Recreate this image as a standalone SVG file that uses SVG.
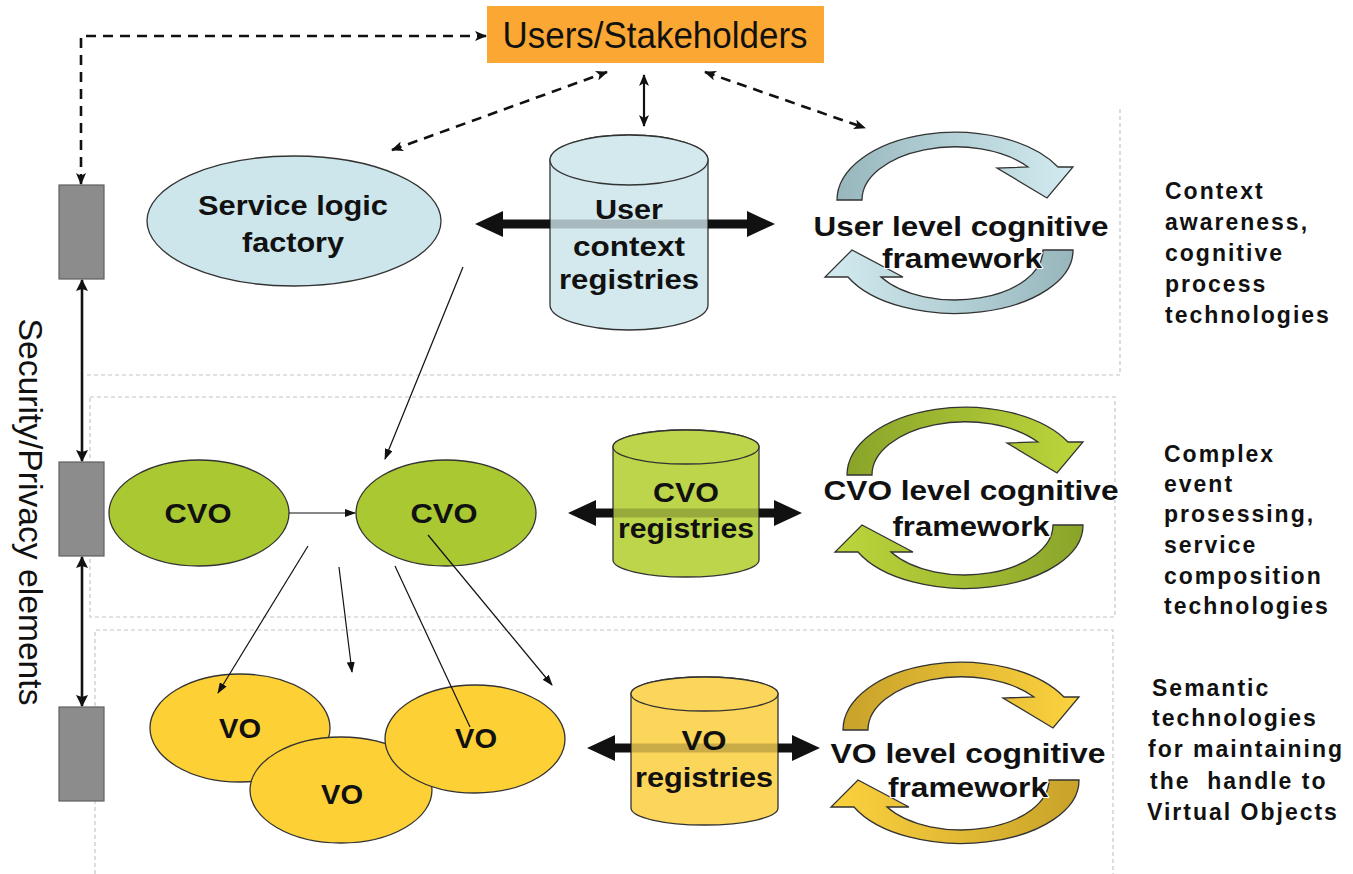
<svg xmlns="http://www.w3.org/2000/svg" width="1353" height="874" viewBox="0 0 1353 874">
  <defs>
    <style>
      text { font-family: "Liberation Sans", Arial, sans-serif; fill: #111; }
      .b { font-weight: bold; font-size: 27px; text-anchor: middle; }
      .cog { font-weight: bold; font-size: 28px; text-anchor: middle; stroke: #fff; stroke-width: 2; paint-order: stroke; stroke-linejoin: round; }
      .side { font-weight: bold; font-size: 23px; letter-spacing: 2px; }
      .layer { fill: none; stroke: #c6c6c6; stroke-width: 1.2; stroke-dasharray: 4 3; }
      .dash { fill: none; stroke: #111; stroke-width: 2.6; stroke-dasharray: 10 7; }
      .thin { fill: none; stroke: #111; stroke-width: 1.2; }
      .solid { fill: none; stroke: #111; stroke-width: 2.6; }
      .guard { fill: #8c8c8c; stroke: #606060; stroke-width: 1.2; }
      .shape { stroke: #333; stroke-width: 1.3; }
      .big { fill: #111; }
      .band { fill: #000; fill-opacity: 0.2; }
    </style>
    <marker id="dh" viewBox="0 0 12 10" refX="11" refY="5" markerWidth="12" markerHeight="10" markerUnits="userSpaceOnUse" orient="auto-start-reverse">
      <path d="M0,0 L12,5 L0,10 L3,5 z" fill="#111"/>
    </marker>
    <marker id="sh" viewBox="0 0 12 12" refX="11" refY="6" markerWidth="12" markerHeight="12" markerUnits="userSpaceOnUse" orient="auto-start-reverse">
      <path d="M0,0 L12,6 L0,12 L2,6 z" fill="#111"/>
    </marker>
    <marker id="th" viewBox="0 0 11 8" refX="10" refY="4" markerWidth="11" markerHeight="8" markerUnits="userSpaceOnUse" orient="auto-start-reverse">
      <path d="M0,0 L11,4 L0,8 z" fill="#111"/>
    </marker>
    <linearGradient id="uTop" x1="0" x2="1" y1="0" y2="0"><stop offset="0" stop-color="#97b7bd"/><stop offset="1" stop-color="#d2ebf0"/></linearGradient>
    <linearGradient id="uBot" x1="0" x2="1" y1="0" y2="0"><stop offset="0" stop-color="#d2ebf0"/><stop offset="1" stop-color="#97b7bd"/></linearGradient>
    <linearGradient id="cTop" x1="0" x2="1" y1="0" y2="0"><stop offset="0" stop-color="#8aa42a"/><stop offset="1" stop-color="#bcd63c"/></linearGradient>
    <linearGradient id="cBot" x1="0" x2="1" y1="0" y2="0"><stop offset="0" stop-color="#bcd63c"/><stop offset="1" stop-color="#8aa42a"/></linearGradient>
    <linearGradient id="vTop" x1="0" x2="1" y1="0" y2="0"><stop offset="0" stop-color="#c8a22a"/><stop offset="1" stop-color="#fcd23e"/></linearGradient>
    <linearGradient id="vBot" x1="0" x2="1" y1="0" y2="0"><stop offset="0" stop-color="#fcd23e"/><stop offset="1" stop-color="#c8a22a"/></linearGradient>
    <!-- circular arrow pair of a cognitive framework -->
    <path id="arcTop" d="M837,200 A118,68 0 0 1 1058,167 L1073,167 L1047,198 L997,168 L1028,167 A93,53 0 0 0 862,200 Z"/>
    <path id="arcBot" d="M1073,250 A118,63 0 0 1 848,277 L825,277 L852,250 L903,277 L881,277 A88,50 0 0 0 1043,250 Z"/>
  </defs>

  <rect width="1353" height="874" fill="#fff"/>

  <!-- layer frames -->
  <g id="layers">
    <path class="layer" d="M87,375 H1120 V108"/>
    <rect class="layer" x="90" y="397" width="1025" height="220"/>
    <path class="layer" d="M95,874 V630 H1113 V874"/>
  </g>

  <!-- security / privacy column -->
  <g id="security">
    <rect class="guard" x="59" y="185" width="45" height="94"/>
    <rect class="guard" x="59" y="462" width="45" height="94"/>
    <rect class="guard" x="59" y="707" width="45" height="94"/>
    <text transform="translate(19,512) rotate(90)" font-size="33" text-anchor="middle" textLength="387" lengthAdjust="spacingAndGlyphs" fill="#222">Security/Privacy elements</text>
  </g>

  <!-- top node -->
  <g id="users">
    <rect x="487" y="6" width="337" height="57" fill="#fba733"/>
    <text x="655" y="48" font-size="36" text-anchor="middle" textLength="305" lengthAdjust="spacingAndGlyphs">Users/Stakeholders</text>
  </g>

  <!-- user level -->
  <g id="service-logic-factory">
    <ellipse class="shape" cx="294" cy="221" rx="147" ry="65" fill="#cde6ec"/>
    <text class="b" x="293" y="215" textLength="190" lengthAdjust="spacingAndGlyphs">Service logic</text>
    <text class="b" x="293" y="252" textLength="102" lengthAdjust="spacingAndGlyphs">factory</text>
  </g>
  <g id="user-context-registries">
    <path class="shape" d="M550,160 V305 A79,25 0 0 0 708,305 V160 A79,25 0 0 0 550,160 Z" fill="#d3e9ee"/>
    <ellipse class="shape" cx="629" cy="160" rx="79" ry="25" fill="#d3e9ee"/>
    <text class="b" x="629" y="219" textLength="68" lengthAdjust="spacingAndGlyphs">User</text>
    <text class="b" x="629" y="256" textLength="112" lengthAdjust="spacingAndGlyphs">context</text>
    <text class="b" x="629" y="289" textLength="140" lengthAdjust="spacingAndGlyphs">registries</text>
  </g>
  <g id="user-cognitive">
    <use href="#arcTop" fill="url(#uTop)" class="shape"/>
    <use href="#arcBot" fill="url(#uBot)" class="shape"/>
    <text class="cog" x="961" y="236" textLength="295" lengthAdjust="spacingAndGlyphs">User level cognitive</text>
    <text class="cog" x="962" y="268" textLength="160" lengthAdjust="spacingAndGlyphs">framework</text>
  </g>

  <!-- CVO level -->
  <g id="cvo-1">
    <ellipse class="shape" cx="199" cy="513" rx="90" ry="53" fill="#a9c832"/>
    <text class="b" x="198" y="523" textLength="67" lengthAdjust="spacingAndGlyphs">CVO</text>
  </g>
  <g id="cvo-2">
    <ellipse class="shape" cx="446" cy="513" rx="90" ry="53" fill="#a9c832"/>
    <text class="b" x="444" y="523" textLength="67" lengthAdjust="spacingAndGlyphs">CVO</text>
  </g>
  <g id="cvo-registries">
    <path class="shape" d="M613,447 V560 A73,17 0 0 0 759,560 V447 A73,17 0 0 0 613,447 Z" fill="#bdd54a"/>
    <ellipse class="shape" cx="686" cy="447" rx="73" ry="17" fill="#bdd54a"/>
    <text class="b" x="686" y="502" textLength="66" lengthAdjust="spacingAndGlyphs">CVO</text>
    <text class="b" x="686" y="538" textLength="136" lengthAdjust="spacingAndGlyphs">registries</text>
  </g>
  <g id="cvo-cognitive">
    <g transform="translate(10,275)">
      <use href="#arcTop" fill="url(#cTop)" class="shape"/>
      <use href="#arcBot" fill="url(#cBot)" class="shape"/>
    </g>
    <text class="cog" x="971" y="500" textLength="295" lengthAdjust="spacingAndGlyphs">CVO level cognitive</text>
    <text class="cog" x="971" y="536" textLength="157" lengthAdjust="spacingAndGlyphs">framework</text>
  </g>

  <!-- VO level -->
  <g id="vo-1">
    <ellipse class="shape" cx="240" cy="728" rx="90" ry="54" fill="#fdd036"/>
    <text class="b" x="240" y="738" textLength="42" lengthAdjust="spacingAndGlyphs">VO</text>
  </g>
  <g id="vo-2">
    <ellipse class="shape" cx="341" cy="790" rx="91" ry="53" fill="#fdd036"/>
    <text class="b" x="342" y="804" textLength="42" lengthAdjust="spacingAndGlyphs">VO</text>
  </g>
  <g id="vo-3">
    <ellipse class="shape" cx="475" cy="739" rx="90" ry="54" fill="#fdd036"/>
    <text class="b" x="476" y="748" textLength="42" lengthAdjust="spacingAndGlyphs">VO</text>
  </g>
  <g id="vo-registries">
    <path class="shape" d="M631,694 V808 A73.5,17 0 0 0 778,808 V694 A73.5,17 0 0 0 631,694 Z" fill="#fcd65a"/>
    <ellipse class="shape" cx="704.5" cy="694" rx="73.5" ry="17" fill="#fcd65a"/>
    <text class="b" x="704" y="750" textLength="45" lengthAdjust="spacingAndGlyphs">VO</text>
    <text class="b" x="704" y="787" textLength="138" lengthAdjust="spacingAndGlyphs">registries</text>
  </g>
  <g id="vo-cognitive">
    <g transform="translate(6,530)">
      <use href="#arcTop" fill="url(#vTop)" class="shape"/>
      <use href="#arcBot" fill="url(#vBot)" class="shape"/>
    </g>
    <text class="cog" x="968" y="763" textLength="275" lengthAdjust="spacingAndGlyphs">VO level cognitive</text>
    <text class="cog" x="968" y="797" textLength="160" lengthAdjust="spacingAndGlyphs">framework</text>
  </g>

  <!-- technology notes -->
  <g id="notes-user">
    <text class="side" x="1165" y="199">Context</text>
    <text class="side" x="1165" y="230">awareness,</text>
    <text class="side" x="1165" y="261">cognitive</text>
    <text class="side" x="1165" y="292">process</text>
    <text class="side" x="1165" y="323">technologies</text>
  </g>
  <g id="notes-cvo">
    <text class="side" x="1164" y="462">Complex</text>
    <text class="side" x="1164" y="492">event</text>
    <text class="side" x="1164" y="522">prosessing,</text>
    <text class="side" x="1164" y="553">service</text>
    <text class="side" x="1164" y="584">composition</text>
    <text class="side" x="1164" y="614">technologies</text>
  </g>
  <g id="notes-vo">
    <text class="side" x="1152" y="696">Semantic</text>
    <text class="side" x="1152" y="726">technologies</text>
    <text class="side" x="1148" y="757">for maintaining</text>
    <text class="side" x="1150" y="789" style="white-space:pre">the  handle to</text>
    <text class="side" x="1147" y="820">Virtual Objects</text>
  </g>

  <!-- connectors -->
  <g id="connectors">
    <path class="dash" d="M81,184 V36 H486" marker-start="url(#dh)" marker-end="url(#dh)"/>
    <line class="dash" x1="392" y1="150" x2="607" y2="72" marker-start="url(#dh)" marker-end="url(#dh)"/>
    <line class="solid" x1="644" y1="75" x2="644" y2="126" style="stroke-width:2.2" marker-start="url(#dh)" marker-end="url(#dh)"/>
    <line class="dash" x1="705" y1="72" x2="865" y2="128" marker-start="url(#dh)" marker-end="url(#dh)"/>
    <line class="solid" x1="82" y1="280" x2="82" y2="461" marker-start="url(#sh)" marker-end="url(#sh)"/>
    <line class="solid" x1="82" y1="557" x2="82" y2="706" marker-start="url(#sh)" marker-end="url(#sh)"/>
    <line class="thin" x1="463" y1="267" x2="385" y2="459" marker-end="url(#th)"/>
    <line class="thin" x1="289" y1="513" x2="355" y2="513" marker-end="url(#th)"/>
    <line class="thin" x1="308" y1="546" x2="218" y2="693" marker-end="url(#th)"/>
    <line class="thin" x1="339" y1="567" x2="352" y2="672" marker-end="url(#th)"/>
    <line class="thin" x1="395" y1="566" x2="470" y2="727"/>
    <line class="thin" x1="428" y1="535" x2="552" y2="685" marker-end="url(#th)"/>
    <!-- registry double arrows, seen through the cylinders -->
    <polygon class="big" points="475,224 503,211 503,219.5 550,219.5 550,228.5 503,228.5 503,237"/>
    <rect class="band" x="550" y="219.5" width="158" height="9"/>
    <polygon class="big" points="708,219.5 747,219.5 747,211 775,224 747,237 747,228.5 708,228.5"/>
    <polygon class="big" points="568,513 596,500 596,508.5 613,508.5 613,517.5 596,517.5 596,526"/>
    <rect class="band" x="613" y="508.5" width="146" height="9"/>
    <polygon class="big" points="759,508.5 774,508.5 774,500 802,513 774,526 774,517.5 759,517.5"/>
    <polygon class="big" points="587,748 615,735 615,743.5 631,743.5 631,752.5 615,752.5 615,761"/>
    <rect class="band" x="631" y="743.5" width="147" height="9"/>
    <polygon class="big" points="778,743.5 792,743.5 792,735 820,748 792,761 792,752.5 778,752.5"/>
  </g>
</svg>
